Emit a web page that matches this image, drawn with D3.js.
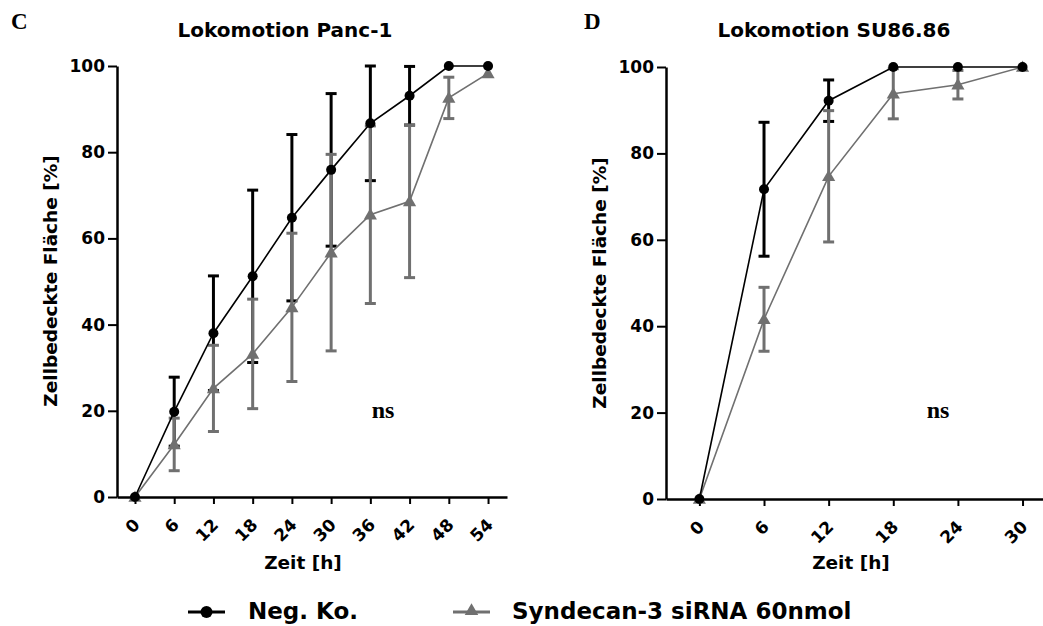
<!DOCTYPE html>
<html>
<head>
<meta charset="utf-8">
<script src="https://cdn.jsdelivr.net/npm/d3@7"></script>
<style>
  body { margin: 0; background: #fff; }
  text { font-family: "DejaVu Sans", Verdana, sans-serif; font-weight: bold; }
  .serif { font-family: "Liberation Serif", "Times New Roman", serif; }
</style>
</head>
<body>
<div id="chart"></div>
<script>
// Panc-1
const pancTime = [0, 6, 12, 18, 24, 30, 36, 42, 48, 54];
const pancNeg = [0, 19.8, 38, 51.2, 64.8, 75.9, 86.7, 93.1, 100, 100];
const pancNegErr = [0, 8, 13.3, 20, 19.3, 17.7, 13.3, 6.8, 0, 0];
const pancSi = [0, 12.2, 25.2, 33.2, 44, 56.7, 65.5, 68.6, 92.6, 98.3];
const pancSiErr = [0, 6.1, 10, 12.7, 17.2, 22.8, 20.6, 17.7, 4.8, 0];

// SU86.86
const suTime = [0, 6, 12, 18, 24, 30];
const suNeg = [0, 71.7, 92.2, 100, 100, 100];
const suNegErr = [0, 15.5, 4.8, 0, 0, 0];
const suSi = [0, 41.6, 74.7, 93.8, 95.9, 100];
const suSiErr = [0, 7.4, 15.2, 5.8, 3.3, 0];

const yTicks = [0, 20, 40, 60, 80, 100];
const seriesNames = ["Neg. Ko.", "Syndecan-3 siRNA 60nmol"];

const black = "#000";
const grey = "#707070";

const svg = d3.select("#chart").append("svg")
  .attr("width", 1043)
  .attr("height", 626);

function panel(opt) {
  const g = svg.append("g");
  const x = d3.scaleLinear().domain(opt.xDomain).range(opt.xRange);
  const y = d3.scaleLinear().domain([0, 100]).range(opt.yRange);

  // axes
  const ya = g.append("g")
    .attr("transform", `translate(${opt.xRange[0]},0)`)
    .call(d3.axisLeft(y).tickValues(yTicks).tickSize(9).tickPadding(3).tickSizeOuter(0));
  ya.select(".domain").attr("stroke-width", 2.5);
  ya.selectAll(".tick line").attr("stroke-width", 2);
  ya.selectAll(".tick text").attr("font-size", 17).attr("font-family", null).attr("fill", "#000");

  const xa = g.append("g")
    .attr("transform", `translate(0,${opt.yRange[0]})`)
    .call(d3.axisBottom(x).tickValues(opt.time).tickSize(7).tickSizeOuter(0).tickFormat(""));
  xa.select(".domain").attr("stroke-width", 2.5);
  xa.selectAll(".tick line").attr("stroke-width", 2);

  g.selectAll(".xlab")
    .data(opt.time)
    .join("text")
    .attr("class", "xlab")
    .attr("transform", d => `translate(${x(d) + 6},${opt.yRange[0] + 29}) rotate(-45)`)
    .attr("text-anchor", "end")
    .attr("font-size", 17)
    .text(d => d);

  // error bars
  function errBars(vals, errs, color) {
    const d = opt.time.map((t, i) => ({ t, v: vals[i], e: errs[i] })).filter(d => d.e > 0);
    const eb = g.append("g").attr("stroke", color).attr("stroke-width", 3);
    eb.selectAll("line.v").data(d).join("line")
      .attr("x1", d => x(d.t)).attr("x2", d => x(d.t))
      .attr("y1", d => y(d.v - d.e)).attr("y2", d => y(Math.min(100, d.v + d.e)));
    eb.selectAll("line.top").data(d).join("line")
      .attr("x1", d => x(d.t) - 5.5).attr("x2", d => x(d.t) + 5.5)
      .attr("y1", d => y(Math.min(100, d.v + d.e))).attr("y2", d => y(Math.min(100, d.v + d.e)));
    eb.selectAll("line.bot").data(d).join("line")
      .attr("x1", d => x(d.t) - 5.5).attr("x2", d => x(d.t) + 5.5)
      .attr("y1", d => y(d.v - d.e)).attr("y2", d => y(d.v - d.e));
  }
  errBars(opt.neg, opt.negErr, black);
  errBars(opt.si, opt.siErr, grey);

  const line = d3.line().x((d, i) => x(opt.time[i])).y(d => y(d));
  g.append("path").datum(opt.si).attr("d", line)
    .attr("fill", "none").attr("stroke", grey).attr("stroke-width", 1.6);
  g.append("path").datum(opt.neg).attr("d", line)
    .attr("fill", "none").attr("stroke", black).attr("stroke-width", 1.6);

  g.selectAll(".tri").data(opt.si).join("path")
    .attr("transform", (d, i) => `translate(${x(opt.time[i])},${y(d) + 1})`)
    .attr("d", d3.symbol(d3.symbolTriangle, 75))
    .attr("fill", grey);
  g.selectAll(".dot").data(opt.neg).join("circle")
    .attr("cx", (d, i) => x(opt.time[i]))
    .attr("cy", d => y(d))
    .attr("r", 5)
    .attr("fill", black);

  // labels
  g.append("text").attr("x", opt.titleX).attr("y", 37)
    .attr("text-anchor", "middle").attr("font-size", 20).text(opt.title);
  g.append("text").attr("class", "serif").attr("x", opt.letterX).attr("y", 29)
    .attr("font-size", 23).text(opt.letter);
  g.append("text").attr("x", opt.xLabelX).attr("y", 569)
    .attr("text-anchor", "middle").attr("font-size", 18.5).text("Zeit [h]");
  g.append("text")
    .attr("transform", `translate(${opt.yLabelX},${opt.yLabelY}) rotate(-90)`)
    .attr("text-anchor", "middle").attr("dy", "0.35em")
    .attr("font-size", 18.5).text("Zellbedeckte Fläche [%]");
  g.append("text").attr("class", "serif").attr("x", opt.nsX).attr("y", 418)
    .attr("text-anchor", "middle").attr("font-size", 24).text("ns");
}

panel({
  time: pancTime, neg: pancNeg, negErr: pancNegErr, si: pancSi, siErr: pancSiErr,
  xDomain: [-2.75, 56.9], xRange: [117, 507], yRange: [497, 66],
  title: "Lokomotion Panc-1", titleX: 285, letter: "C", letterX: 11,
  xLabelX: 303, yLabelX: 51, yLabelY: 281, nsX: 383
});

panel({
  time: suTime, neg: suNeg, negErr: suNegErr, si: suSi, siErr: suSiErr,
  xDomain: [-3.1, 31.9], xRange: [666, 1043], yRange: [499, 67],
  title: "Lokomotion SU86.86", titleX: 834, letter: "D", letterX: 584,
  xLabelX: 851, yLabelX: 600, yLabelY: 283, nsX: 938
});

// legend
const legend = svg.append("g");
const legendItems = [
  { name: seriesNames[0], color: black, x0: 188, textX: 248, shape: "circle" },
  { name: seriesNames[1], color: grey, x0: 453, textX: 512, shape: "triangle" }
];
legendItems.forEach(it => {
  legend.append("line").attr("x1", it.x0).attr("x2", it.x0 + 37)
    .attr("y1", 612).attr("y2", 612).attr("stroke", it.color).attr("stroke-width", 3);
  if (it.shape === "circle") {
    legend.append("circle").attr("cx", it.x0 + 18.5).attr("cy", 612).attr("r", 6).attr("fill", it.color);
  } else {
    legend.append("path").attr("transform", `translate(${it.x0 + 18.5},611)`)
      .attr("d", d3.symbol(d3.symbolTriangle, 80)).attr("fill", it.color);
  }
  legend.append("text").attr("x", it.textX).attr("y", 619)
    .attr("font-size", 23).text(it.name);
});
</script>
</body>
</html>
